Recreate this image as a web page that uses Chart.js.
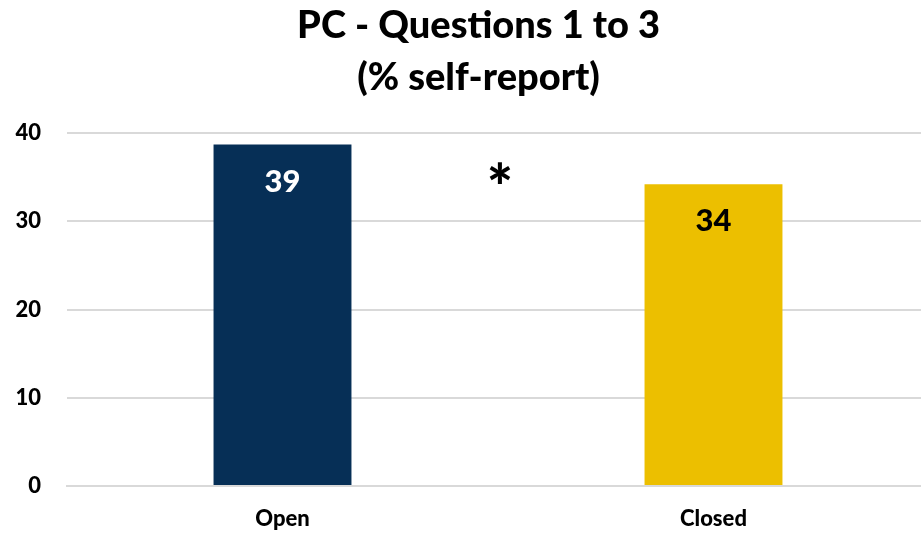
<!DOCTYPE html>
<html><head><meta charset="utf-8">
<script src="https://cdn.jsdelivr.net/npm/chart.js@4"></script>
<style>html,body{margin:0;padding:0;background:#fff}#wrap{width:921px;height:535px}</style>
</head><body><div id="wrap"><canvas id="c"></canvas></div>
<script>
const categories = ["Open", "Closed"];
const values = [38.7, 34.2];
const valueLabels = ["39", "34"];
const barColors = ["#062F56", "#ECBF00"];
const labelColors = ["#FFFFFF", "#000000"];
const titleLines = ["PC - Questions 1 to 3", "(% self-report)"];
const yTicks = [0, 10, 20, 30, 40];
const significanceMark = {text: "*", between: 0.5, value: 35.6};

const FONT = "Lato, 'Open Sans', sans-serif";

const layoutTweak = {
  id: 'layoutTweak',
  afterLayout(chart) {
    // title centred a little right of the canvas centre, as in the original
    if (chart.titleBlock) { chart.titleBlock.left += 36; }
    // category axis continues slightly past the right edge
    const xs = chart.scales.x;
    xs._endPixel += 8;
    xs._length += 8;
  }
};

const overlay = {
  id: 'overlay',
  afterDatasetsDraw(chart) {
    const ctx = chart.ctx;
    const meta = chart.getDatasetMeta(0);
    ctx.save();
    ctx.textAlign = 'center';
    ctx.textBaseline = 'middle';
    ctx.font = "900 31px " + FONT;
    meta.data.forEach((bar, i) => {
      ctx.fillStyle = labelColors[i];
      ctx.fillText(valueLabels[i], bar.x, bar.y + 37);
    });
    const xs = chart.scales.x, ys = chart.scales.y;
    ctx.fillStyle = '#000';
    ctx.font = "900 62px " + FONT;
    ctx.fillText(significanceMark.text, xs.getPixelForValue(significanceMark.between) + 2, ys.getPixelForValue(significanceMark.value) + 18);
    ctx.restore();
  }
};

new Chart(document.getElementById('c'), {
  type: 'bar',
  data: {
    labels: categories,
    datasets: [{
      data: values,
      backgroundColor: barColors,
      categoryPercentage: 1,
      barPercentage: 0.32
    }]
  },
  options: {
    responsive: true,
    maintainAspectRatio: false,
    animation: false,
    layout: {padding: {left: 0, right: 0, top: 0, bottom: 0}},
    plugins: {
      legend: {display: false},
      tooltip: {enabled: false},
      title: {
        display: true,
        text: titleLines,
        color: '#000',
        font: {family: FONT, size: 38, weight: '900', lineHeight: 1.37},
        padding: {top: 0, bottom: 29}
      }
    },
    scales: {
      x: {
        afterFit(scale) { scale.height = 49; },
        grid: {display: false, drawTicks: false},
        border: {display: true, color: '#D9D9D9', width: 2},
        ticks: {color: '#000', font: {family: FONT, size: 22, weight: '900'}, padding: 20}
      },
      y: {
        min: 0, max: 40,
        afterBuildTicks(scale) { scale.ticks = yTicks.map(v => ({value: v})); },
        afterFit(scale) { scale.width = 67; },
        grid: {color: '#D9D9D9', lineWidth: 2, drawTicks: false},
        border: {display: false},
        ticks: {color: '#000', font: {family: FONT, size: 22, weight: '900'}, padding: 26}
      }
    }
  },
  plugins: [layoutTweak, overlay]
});
</script>
</body></html>
